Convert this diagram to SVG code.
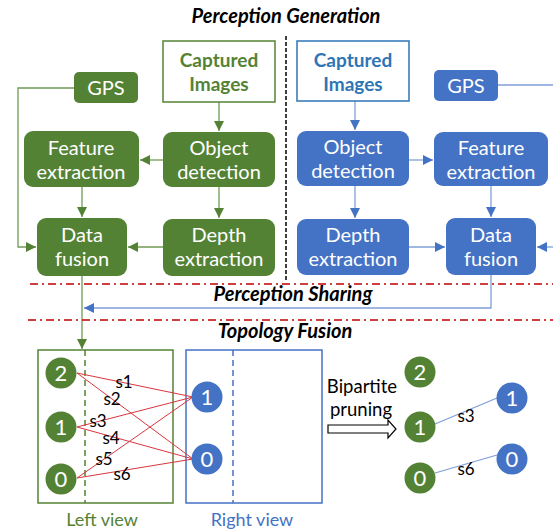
<svg xmlns="http://www.w3.org/2000/svg" width="553" height="531" viewBox="0 0 553 531">
<style>
text{font-family:Lato,"Open Sans",sans-serif;}
.t{font-size:20px;fill:#fff;text-anchor:middle;}
.g{fill:#548235;}
.b{fill:#4472c4;}
.gl{stroke:#6f9b55;stroke-width:1.3;fill:none;}
.bl{stroke:#7f9fd8;stroke-width:1.3;fill:none;}
.h{font-size:20px;font-weight:bold;font-style:italic;fill:#000;text-anchor:middle;}
.red{stroke:#c00000;stroke-width:1.5;stroke-dasharray:8 4 2 4;fill:none;}
.rl{stroke:#d9363e;stroke-width:1;fill:none;}
.s{font-size:17px;fill:#000;text-anchor:middle;}
.n{font-size:22px;fill:#fff;text-anchor:middle;}
</style>
<defs>
<marker id="ag" viewBox="0 0 10 10" refX="10" refY="5" markerWidth="10" markerHeight="10" markerUnits="userSpaceOnUse" orient="auto"><path d="M0,0L10,5L0,10z" fill="#548235"/></marker>
<marker id="ab" viewBox="0 0 10 10" refX="10" refY="5" markerWidth="10" markerHeight="10" markerUnits="userSpaceOnUse" orient="auto"><path d="M0,0L10,5L0,10z" fill="#4472c4"/></marker>
</defs>
<text class="h" x="286" y="23">Perception Generation</text>
<line x1="286" y1="36" x2="286" y2="282" stroke="#000" stroke-width="1.5" stroke-dasharray="4 2"/>
<g id="connectors">
<path class="gl" d="M74,88H18V247H36" marker-end="url(#ag)"/>
<path class="gl" d="M219,102V131" marker-end="url(#ag)"/>
<path class="gl" d="M163,160H140" marker-end="url(#ag)"/>
<path class="gl" d="M219,187V218" marker-end="url(#ag)"/>
<path class="gl" d="M82,187V217" marker-end="url(#ag)"/>
<path class="gl" d="M163,247H128" marker-end="url(#ag)"/>
<path class="gl" d="M82,276V349" marker-end="url(#ag)"/>
<path class="bl" d="M355,101V130" marker-end="url(#ab)"/>
<path class="bl" d="M409,160H433" marker-end="url(#ab)"/>
<path class="bl" d="M355,186V218" marker-end="url(#ab)"/>
<path class="bl" d="M491,186V217" marker-end="url(#ab)"/>
<path class="bl" d="M409,247H445" marker-end="url(#ab)"/>
<path class="bl" d="M553,247H537" marker-end="url(#ab)"/>
<path class="bl" d="M498,85H553"/>
<path class="bl" d="M491,275V308H84" marker-end="url(#ab)"/>
</g>
<g id="lcap"><rect x="163" y="41" width="112" height="61" fill="#fff" stroke="#548235" stroke-width="1.5"/><text x="219" y="67" font-size="19" font-weight="bold" text-anchor="middle" class="g">Captured</text><text x="219" y="91" font-size="19" font-weight="bold" text-anchor="middle" class="g">Images</text></g>
<g id="lgps"><rect x="74" y="72" width="64" height="31" rx="5" class="g"/><text class="t" x="106" y="95">GPS</text></g>
<g id="lfeat"><rect x="24" y="131" width="115" height="56" rx="9" class="g"/><text class="t" x="81" y="155">Feature</text><text class="t" x="81" y="179">extraction</text></g>
<g id="lobj"><rect x="163" y="132" width="112" height="55" rx="9" class="g"/><text class="t" x="219" y="155">Object</text><text class="t" x="219" y="179">detection</text></g>
<g id="lfus"><rect x="37" y="218" width="90" height="58" rx="9" class="g"/><text class="t" x="82" y="242">Data</text><text class="t" x="82" y="266">fusion</text></g>
<g id="ldep"><rect x="163" y="219" width="112" height="57" rx="9" class="g"/><text class="t" x="219" y="242">Depth</text><text class="t" x="219" y="266">extraction</text></g>
<g id="rcap"><rect x="297" y="41" width="112" height="60" fill="#fff" stroke="#2e75b6" stroke-width="1.5"/><text x="353" y="67" font-size="19" font-weight="bold" text-anchor="middle" fill="#2e75b6">Captured</text><text x="353" y="91" font-size="19" font-weight="bold" text-anchor="middle" fill="#2e75b6">Images</text></g>
<g id="rgps"><rect x="434" y="70" width="64" height="31" rx="5" class="b"/><text class="t" x="466" y="93">GPS</text></g>
<g id="robj"><rect x="297" y="131" width="112" height="55" rx="9" class="b"/><text class="t" x="353" y="154">Object</text><text class="t" x="353" y="178">detection</text></g>
<g id="rfeat"><rect x="434" y="132" width="114" height="54" rx="9" class="b"/><text class="t" x="491" y="155">Feature</text><text class="t" x="491" y="179">extraction</text></g>
<g id="rdep"><rect x="297" y="219" width="112" height="56" rx="9" class="b"/><text class="t" x="353" y="242">Depth</text><text class="t" x="353" y="266">extraction</text></g>
<g id="rfus"><rect x="446" y="218" width="90" height="57" rx="9" class="b"/><text class="t" x="491" y="242">Data</text><text class="t" x="491" y="266">fusion</text></g>
<path class="red" d="M30,284H553"/>
<path class="red" d="M28,320H553"/>
<text class="h" x="293" y="301">Perception Sharing</text>
<text class="h" x="285" y="338">Topology Fusion</text>
<g id="leftview">
<rect x="38" y="350" width="135" height="153" fill="none" stroke="#548235" stroke-width="1.5"/>
<line x1="85" y1="350" x2="85" y2="503" stroke="#548235" stroke-width="1.5" stroke-dasharray="6 4"/>
<text x="102" y="526" font-size="18" text-anchor="middle" class="g">Left view</text>
</g>
<g id="rightview">
<rect x="186" y="350" width="136" height="153" fill="none" stroke="#4472c4" stroke-width="1.5"/>
<line x1="233" y1="350" x2="233" y2="503" stroke="#4472c4" stroke-width="1.5" stroke-dasharray="6 4"/>
<text x="252" y="526" font-size="18" text-anchor="middle" class="b">Right view</text>
</g>
<g id="edges">
<path class="rl" d="M77,373L193,397M77,373L193,459M77,427L193,397M77,427L193,459M77,478L193,397M77,478L193,459"/>
<text class="s" x="124" y="388">s1</text>
<text class="s" x="112" y="405">s2</text>
<text class="s" x="98" y="427">s3</text>
<text class="s" x="111" y="444">s4</text>
<text class="s" x="104" y="465">s5</text>
<text class="s" x="122" y="480">s6</text>
</g>
<g id="l2"><circle cx="61" cy="373" r="15.5" class="g"/><text class="n" x="61" y="381">2</text></g>
<g id="l1"><circle cx="61" cy="427" r="15.5" class="g"/><text class="n" x="61" y="435">1</text></g>
<g id="l0"><circle cx="61" cy="479" r="15.5" class="g"/><text class="n" x="61" y="487">0</text></g>
<g id="r1"><circle cx="207" cy="397" r="15.5" class="b"/><text class="n" x="207" y="405">1</text></g>
<g id="r0"><circle cx="207" cy="459" r="15.5" class="b"/><text class="n" x="207" y="467">0</text></g>
<g id="prune">
<text x="362" y="393" font-size="18.5" text-anchor="middle">Bipartite</text>
<text x="361" y="416" font-size="18.5" text-anchor="middle">pruning</text>
<path d="M328,425H388V420L396,429L388,438V433H328Z" fill="#fff" stroke="#000" stroke-width="1.2"/>
</g>
<g id="pedges">
<path class="bl" d="M435,424L497,398M435,473L497,455" stroke-width="1"/>
<text class="s" x="466" y="422">s3</text>
<text class="s" x="466" y="475">s6</text>
</g>
<g id="p2"><circle cx="420" cy="372" r="15.5" class="g"/><text class="n" x="420" y="380">2</text></g>
<g id="p1"><circle cx="420" cy="427" r="15.5" class="g"/><text class="n" x="420" y="435">1</text></g>
<g id="p0"><circle cx="420" cy="478" r="15.5" class="g"/><text class="n" x="420" y="486">0</text></g>
<g id="q1"><circle cx="512" cy="398" r="15.5" class="b"/><text class="n" x="512" y="406">1</text></g>
<g id="q0"><circle cx="512" cy="459" r="15.5" class="b"/><text class="n" x="512" y="467">0</text></g>
</svg>
